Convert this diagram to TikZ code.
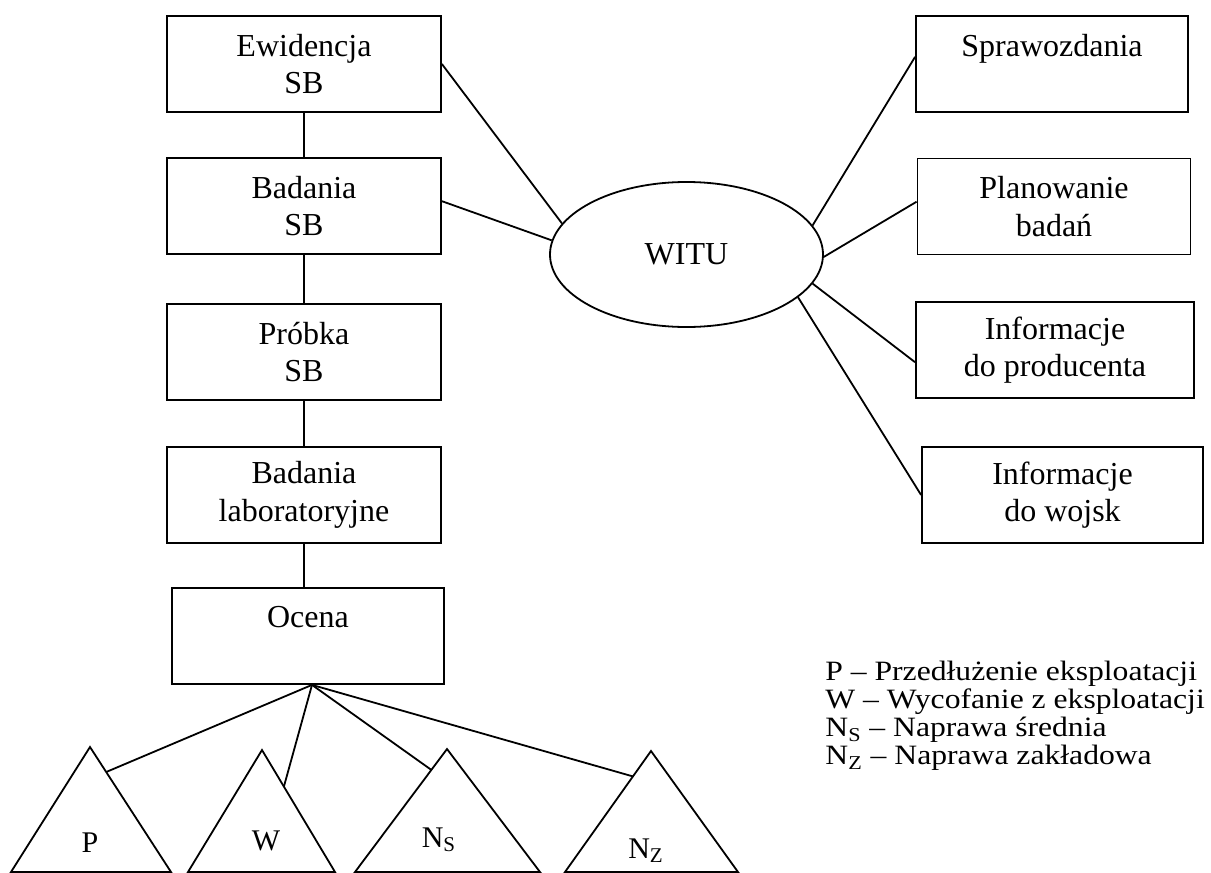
\documentclass[tikz,border=0pt]{standalone}
\usepackage{fontspec}
\setmainfont{Liberation Serif}
\newfontfamily\legendfont[FakeStretch=1.13]{Liberation Serif}
\usetikzlibrary{shapes.geometric,calc}

\begin{document}
\begin{tikzpicture}[
        x=0.5pt, y=-0.5pt,
        box/.style={draw, line width=0.9pt, align=center, inner sep=0pt, minimum width=137pt, minimum height=48pt, font=\fontsize{16}{18.8}\selectfont},
        oval/.style={draw, ellipse, line width=0.9pt, inner sep=0pt, minimum width=136.5pt, minimum height=72.5pt, font=\fontsize{16}{18.8}\selectfont},
        link/.style={line width=0.9pt},
        tri/.style={line width=0.9pt, line join=miter},
        trilabel/.style={inner sep=0pt, anchor=base, font=\fontsize{15}{18}\selectfont},
        legend/.style={inner sep=0pt, align=left, anchor=north west, font=\legendfont\fontsize{14}{14}\selectfont},
    ]
    \useasboundingbox (0,0) rectangle (1211,873);

    % left column
	\node[box] (ewid) at (304,64) {Ewidencja\\SB};
	\node[box] (badsb) at (304,206) {Badania\\SB};
	\node[box] (probka) at (304,352) {Próbka\\SB};
	\node[box] (badlab) at (304,495) {Badania\\laboratoryjne};
	\node[box, minimum width=136pt] (ocena) at (308,636) {Ocena\\\phantom{SB}};

	\node[oval] (witu) at (686.5,254.5) {WITU};

    % right column
	\node[box, minimum width=136pt] (spraw) at (1052,64) {Sprawozdania\\\phantom{SB}};
	\node[box, minimum width=136.5pt] (plan) at (1054,206.5) {Planowanie\\badań};
	\node[box, minimum width=139pt] (infprod) at (1055,350) {Informacje\\do producenta};
	\node[box, minimum width=140.5pt] (infwojsk) at (1062.5,495) {Informacje\\do wojsk};

	\draw[link] (ewid.south) -- (badsb.north);
	\draw[link] (badsb.south) -- (probka.north);
	\draw[link] (probka.south) -- (badlab.north);
	\draw[link] (badlab.south) -- (badlab.south |- ocena.north);

	\draw[link] (ewid.east) -- (witu.166);
	\draw[link] (badsb.2) -- (witu.174);
	\draw[link] (witu.13) -- (spraw.177);
	\draw[link] (witu.-1) -- (plan.178);
	\draw[link] (witu.-13) -- (infprod.185);
	\draw[link] (witu.-21) -- (infwojsk.west);

    % decisions
	\coordinate (fan) at ($(ocena.south)+(4,0)$);
	\coordinate (p_top) at (90,747);
	\coordinate (p_l) at (11,872);
	\coordinate (p_r) at (171,872);
	\coordinate (w_top) at (262,750);
	\coordinate (w_l) at (188,872);
	\coordinate (w_r) at (335,872);
	\coordinate (ns_top) at (447,749);
	\coordinate (ns_l) at (355,872);
	\coordinate (ns_r) at (540,872);
	\coordinate (nz_top) at (651,751);
	\coordinate (nz_l) at (565,872);
	\coordinate (nz_r) at (738,872);

	\draw[tri] (p_top) -- (p_r) -- (p_l) -- cycle;
	\draw[tri] (w_top) -- (w_r) -- (w_l) -- cycle;
	\draw[tri] (ns_top) -- (ns_r) -- (ns_l) -- cycle;
	\draw[tri] (nz_top) -- (nz_r) -- (nz_l) -- cycle;

	\draw[link] (fan) -- ($(p_top)!0.2!(p_r)$);
	\draw[link] (fan) -- ($(w_top)!0.3!(w_r)$);
	\draw[link] (fan) -- ($(ns_top)!0.17!(ns_l)$);
	\draw[link] (fan) -- ($(nz_top)!0.21!(nz_l)$);

	\node[trilabel] (lp) at (90,852) {P};
	\node[trilabel] (lw) at (266,850) {W};
	\node[trilabel] (lns) at (439,847) {N\textsubscript{S}};
	\node[trilabel] (lnz) at (646,858) {N\textsubscript{Z}};

    % legend
	\node[legend] (legend) at (825,661) {P – Przedłużenie eksploatacji\\W – Wycofanie z eksploatacji\\N\textsubscript{S} – Naprawa średnia\\N\textsubscript{Z} – Naprawa zakładowa};

    \end{tikzpicture}
\end{document}
